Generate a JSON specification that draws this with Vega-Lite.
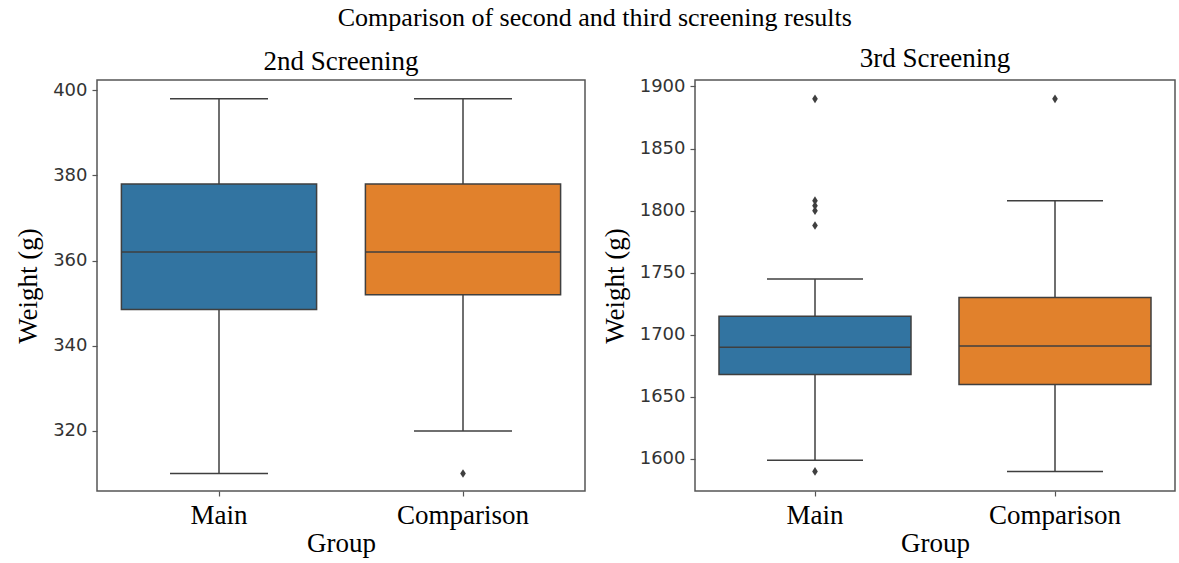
{
  "$schema": "https://vega.github.io/schema/vega-lite/v6.json",
  "padding": {"left": 13, "right": 0, "top": 4, "bottom": 2},
  "title": {"text": "Comparison of second and third screening results", "font": "Liberation Serif", "fontSize": 26, "fontWeight": "normal", "color": "#000", "anchor": "middle", "offset": 14},
  "datasets": {
    "box2": [
      {"group": "Main", "lower": 310, "q1": 348.5, "median": 362, "q3": 378, "upper": 398},
      {"group": "Comparison", "lower": 320, "q1": 352, "median": 362, "q3": 378, "upper": 398}
    ],
    "out2": [
      {"group": "Comparison", "value": 310}
    ],
    "box3": [
      {"group": "Main", "lower": 1599, "q1": 1668, "median": 1690, "q3": 1715, "upper": 1745},
      {"group": "Comparison", "lower": 1590, "q1": 1660, "median": 1691, "q3": 1730, "upper": 1808}
    ],
    "out3": [
      {"group": "Main", "value": 1590},
      {"group": "Main", "value": 1788},
      {"group": "Main", "value": 1800},
      {"group": "Main", "value": 1804},
      {"group": "Main", "value": 1808},
      {"group": "Main", "value": 1890},
      {"group": "Comparison", "value": 1890}
    ]
  },
  "spacing": 14,
  "hconcat": [
    {
      "title": "2nd Screening",
      "width": 488,
      "height": 411,
      "encoding": {
        "x": {"field": "group", "type": "nominal", "scale": {"domain": ["Main", "Comparison"], "paddingInner": 0, "paddingOuter": 0}, "axis": {"title": "Group"}}
      },
      "layer": [
        {"data": {"name": "box2"}, "mark": {"type": "rule", "color": "#3f3f3f", "strokeWidth": 1.5},
         "encoding": {"y": {"field": "lower", "type": "quantitative", "scale": {"domain": [305.9, 402.4], "nice": false, "zero": false}, "axis": {"title": "Weight (g)", "values": [320, 340, 360, 380, 400], "format": "d"}}, "y2": {"field": "q1"}}},
        {"data": {"name": "box2"}, "mark": {"type": "rule", "color": "#3f3f3f", "strokeWidth": 1.5},
         "encoding": {"y": {"field": "q3", "type": "quantitative"}, "y2": {"field": "upper"}}},
        {"data": {"name": "box2"}, "mark": {"type": "bar", "width": {"band": 0.8}, "stroke": "#3f3f3f", "strokeWidth": 1.5},
         "encoding": {"y": {"field": "q1", "type": "quantitative"}, "y2": {"field": "q3"}, "color": {"field": "group", "type": "nominal", "scale": {"domain": ["Main", "Comparison"], "range": ["#3274A1", "#E1812C"]}, "legend": null}}},
        {"data": {"name": "box2"}, "mark": {"type": "tick", "size": 195, "thickness": 1.5, "color": "#3f3f3f", "opacity": 1},
         "encoding": {"y": {"field": "median", "type": "quantitative"}}},
        {"data": {"name": "box2"}, "mark": {"type": "tick", "size": 98, "thickness": 1.5, "color": "#3f3f3f", "opacity": 1},
         "encoding": {"y": {"field": "lower", "type": "quantitative"}}},
        {"data": {"name": "box2"}, "mark": {"type": "tick", "size": 98, "thickness": 1.5, "color": "#3f3f3f", "opacity": 1},
         "encoding": {"y": {"field": "upper", "type": "quantitative"}}},
        {"data": {"name": "out2"}, "mark": {"type": "point", "shape": "M0,-1L0.65,0L0,1L-0.65,0Z", "filled": true, "color": "#3f3f3f", "size": 75, "opacity": 1},
         "encoding": {"y": {"field": "value", "type": "quantitative"}}}
      ]
    },
    {
      "title": "3rd Screening",
      "width": 480,
      "height": 411,
      "encoding": {
        "x": {"field": "group", "type": "nominal", "scale": {"domain": ["Main", "Comparison"], "paddingInner": 0, "paddingOuter": 0}, "axis": {"title": "Group"}}
      },
      "layer": [
        {"data": {"name": "box3"}, "mark": {"type": "rule", "color": "#3f3f3f", "strokeWidth": 1.5},
         "encoding": {"y": {"field": "lower", "type": "quantitative", "scale": {"domain": [1574.2, 1905.2], "nice": false, "zero": false}, "axis": {"title": "Weight (g)", "values": [1600, 1650, 1700, 1750, 1800, 1850, 1900], "format": "d"}}, "y2": {"field": "q1"}}},
        {"data": {"name": "box3"}, "mark": {"type": "rule", "color": "#3f3f3f", "strokeWidth": 1.5},
         "encoding": {"y": {"field": "q3", "type": "quantitative"}, "y2": {"field": "upper"}}},
        {"data": {"name": "box3"}, "mark": {"type": "bar", "width": {"band": 0.8}, "stroke": "#3f3f3f", "strokeWidth": 1.5},
         "encoding": {"y": {"field": "q1", "type": "quantitative"}, "y2": {"field": "q3"}, "color": {"field": "group", "type": "nominal", "scale": {"domain": ["Main", "Comparison"], "range": ["#3274A1", "#E1812C"]}, "legend": null}}},
        {"data": {"name": "box3"}, "mark": {"type": "tick", "size": 192, "thickness": 1.5, "color": "#3f3f3f", "opacity": 1},
         "encoding": {"y": {"field": "median", "type": "quantitative"}}},
        {"data": {"name": "box3"}, "mark": {"type": "tick", "size": 96, "thickness": 1.5, "color": "#3f3f3f", "opacity": 1},
         "encoding": {"y": {"field": "lower", "type": "quantitative"}}},
        {"data": {"name": "box3"}, "mark": {"type": "tick", "size": 96, "thickness": 1.5, "color": "#3f3f3f", "opacity": 1},
         "encoding": {"y": {"field": "upper", "type": "quantitative"}}},
        {"data": {"name": "out3"}, "mark": {"type": "point", "shape": "M0,-1L0.65,0L0,1L-0.65,0Z", "filled": true, "color": "#3f3f3f", "size": 75, "opacity": 1},
         "encoding": {"y": {"field": "value", "type": "quantitative"}}}
      ]
    }
  ],
  "config": {
    "view": {"stroke": "#555", "strokeWidth": 1.5},
    "title": {"font": "Liberation Serif", "fontSize": 27, "fontWeight": "normal", "color": "#000", "offset": 4},
    "axisX": {"labelAngle": 0, "labelFont": "Liberation Serif", "labelFontSize": 27, "labelColor": "#000", "labelPadding": 6, "titleFont": "Liberation Serif", "titleFontSize": 27, "titleFontWeight": "normal", "titleColor": "#000", "titlePadding": 2, "tickSize": 5, "tickColor": "#555", "tickWidth": 1.2, "domain": false},
    "axisY": {"labelFont": "DejaVu Sans", "labelFontSize": 18, "labelColor": "#333", "labelPadding": 5, "titleFont": "Liberation Serif", "titleFontSize": 27, "titleFontWeight": "normal", "titleColor": "#000", "titlePadding": 10, "tickSize": 5, "tickColor": "#555", "tickWidth": 1.2, "grid": false, "domain": false}
  }
}
